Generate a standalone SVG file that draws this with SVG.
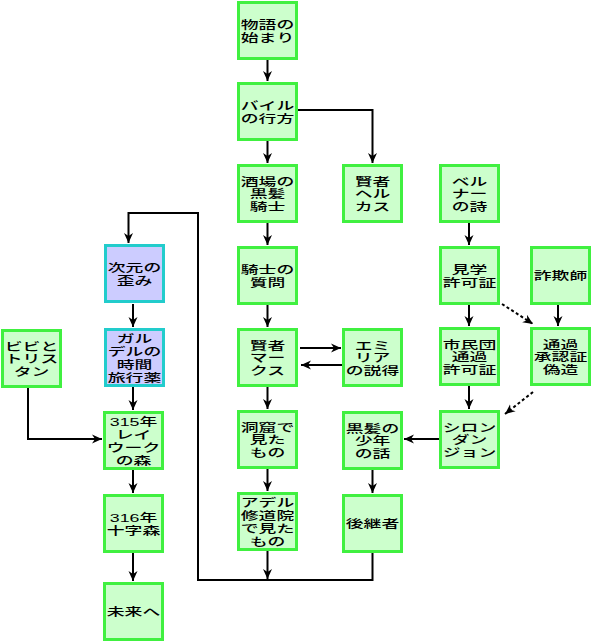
<svg xmlns="http://www.w3.org/2000/svg" width="592" height="642" viewBox="0 0 592 642">
<style>
.n rect{fill:#ccffcc;stroke:#40f040;stroke-width:3}
.p rect{fill:#ccccff;stroke:#22cccc;stroke-width:3}
text{font-family:"Liberation Sans","Noto Sans CJK JP","Noto Sans CJK SC",sans-serif;font-size:11.5px;font-weight:500;fill:#000;text-anchor:middle}
.c path{fill:none;stroke:#000;stroke-width:2;marker-end:url(#ah)}
.c .d{stroke-dasharray:3,2.5}
</style>
<defs>
<marker id="ah" markerUnits="userSpaceOnUse" markerWidth="11" markerHeight="10" refX="10" refY="5" orient="auto" viewBox="0 0 11 10">
<path d="M0,0.5 L10,5 L0,9.5 L3,5 z" fill="#000"/>
</marker>
</defs>
<rect width="592" height="642" fill="#fff"/>
<g class="c" id="connectors">
<path d="M267.5,60 V81"/>
<path d="M298,110 H372.5 V163"/>
<path d="M267.5,141 V163"/>
<path d="M267.5,223 V245"/>
<path d="M267.5,305 V327"/>
<path d="M300,348 H341"/>
<path d="M342,365 H301"/>
<path d="M267.5,387 V409"/>
<path d="M267.5,469 V491"/>
<path d="M267.5,551 V579"/>
<path d="M372.5,553 V580 H198 V213 H128.5 V243"/>
<path d="M133,304 V327"/>
<path d="M133,387 V410"/>
<path d="M28,388 V439 H102"/>
<path d="M133,470 V493"/>
<path d="M133,553 V581"/>
<path d="M469,223 V245"/>
<path d="M469,305 V326"/>
<path d="M558,305 V326"/>
<path class="d" d="M502,304 L533,324"/>
<path d="M469,386 V409"/>
<path class="d" d="M533,392 L505,414"/>
<path d="M439,439 H404"/>
<path d="M372.5,470 V493"/>
</g>
<g id="n1" class="n"><rect x="238.5" y="2.5" width="58" height="56"/><g transform="translate(267.5,0) scale(1.55,1)"><text><tspan x="0" y="29.05">物語の</tspan><tspan x="0" y="41.95">始まり</tspan></text></g></g>
<g id="n2" class="n"><rect x="238.5" y="83.5" width="58" height="56"/><g transform="translate(267.5,0) scale(1.55,1)"><text><tspan x="0" y="110.05">バイル</tspan><tspan x="0" y="122.95">の行方</tspan></text></g></g>
<g id="n3" class="n"><rect x="238.5" y="165.5" width="58" height="56"/><g transform="translate(267.5,0) scale(1.55,1)"><text><tspan x="0" y="185.6">酒場の</tspan><tspan x="0" y="198.5">黒髪</tspan><tspan x="0" y="211.4">騎士</tspan></text></g></g>
<g id="n4" class="n"><rect x="343.5" y="165.5" width="58" height="56"/><g transform="translate(372.5,0) scale(1.55,1)"><text><tspan x="0" y="185.6">賢者</tspan><tspan x="0" y="198.5">ヘル</tspan><tspan x="0" y="211.4">カス</tspan></text></g></g>
<g id="n5" class="n"><rect x="238.5" y="247.5" width="58" height="56"/><g transform="translate(267.5,0) scale(1.55,1)"><text><tspan x="0" y="274.05">騎士の</tspan><tspan x="0" y="286.95">質問</tspan></text></g></g>
<g id="n6" class="n"><rect x="238.5" y="329.5" width="58" height="56"/><g transform="translate(267.5,0) scale(1.55,1)"><text><tspan x="0" y="349.6">賢者</tspan><tspan x="0" y="362.5">マー</tspan><tspan x="0" y="375.4">クス</tspan></text></g></g>
<g id="n7" class="n"><rect x="343.5" y="329.5" width="58" height="56"/><g transform="translate(372.5,0) scale(1.55,1)"><text><tspan x="0" y="349.6">エミ</tspan><tspan x="0" y="362.5">リア</tspan><tspan x="0" y="375.4">の説得</tspan></text></g></g>
<g id="n8" class="n"><rect x="238.5" y="411.5" width="58" height="56"/><g transform="translate(267.5,0) scale(1.55,1)"><text><tspan x="0" y="431.6">洞窟で</tspan><tspan x="0" y="444.5">見た</tspan><tspan x="0" y="457.4">もの</tspan></text></g></g>
<g id="n9" class="n"><rect x="238.5" y="493.5" width="58" height="56"/><g transform="translate(267.5,0) scale(1.55,1)"><text><tspan x="0" y="507.15">アデル</tspan><tspan x="0" y="520.05">修道院</tspan><tspan x="0" y="532.95">で見た</tspan><tspan x="0" y="545.85">もの</tspan></text></g></g>
<g id="n10" class="n"><rect x="343.5" y="412.5" width="58" height="56"/><g transform="translate(372.5,0) scale(1.55,1)"><text><tspan x="0" y="432.6">黒髪の</tspan><tspan x="0" y="445.5">少年</tspan><tspan x="0" y="458.4">の話</tspan></text></g></g>
<g id="n11" class="n"><rect x="343.5" y="495.5" width="58" height="56"/><g transform="translate(372.5,0) scale(1.55,1)"><text><tspan x="0" y="528.5">後継者</tspan></text></g></g>
<g id="n12" class="n"><rect x="440.5" y="165.5" width="58" height="56"/><g transform="translate(469.5,0) scale(1.55,1)"><text><tspan x="0" y="185.6">ベル</tspan><tspan x="0" y="198.5">ナー</tspan><tspan x="0" y="211.4">の詩</tspan></text></g></g>
<g id="n13" class="n"><rect x="440.5" y="247.5" width="58" height="56"/><g transform="translate(469.5,0) scale(1.55,1)"><text><tspan x="0" y="274.05">見学</tspan><tspan x="0" y="286.95">許可証</tspan></text></g></g>
<g id="n14" class="n"><rect x="531.5" y="247.5" width="58" height="56"/><g transform="translate(560.5,0) scale(1.55,1)"><text><tspan x="0" y="280.5">詐欺師</tspan></text></g></g>
<g id="n15" class="n"><rect x="440.5" y="328.5" width="58" height="56"/><g transform="translate(469.5,0) scale(1.55,1)"><text><tspan x="0" y="348.6">市民団</tspan><tspan x="0" y="361.5">通過</tspan><tspan x="0" y="374.4">許可証</tspan></text></g></g>
<g id="n16" class="n"><rect x="531.5" y="328.5" width="58" height="56"/><g transform="translate(560.5,0) scale(1.55,1)"><text><tspan x="0" y="348.6">通過</tspan><tspan x="0" y="361.5">承認証</tspan><tspan x="0" y="374.4">偽造</tspan></text></g></g>
<g id="n17" class="n"><rect x="440.5" y="411.5" width="58" height="56"/><g transform="translate(469.5,0) scale(1.55,1)"><text><tspan x="0" y="431.6">シロン</tspan><tspan x="0" y="444.5">ダン</tspan><tspan x="0" y="457.4">ジョン</tspan></text></g></g>
<g id="n18" class="p"><rect x="105.5" y="245.5" width="58" height="56"/><g transform="translate(134.5,0) scale(1.55,1)"><text><tspan x="0" y="272.05">次元の</tspan><tspan x="0" y="284.95">歪み</tspan></text></g></g>
<g id="n19" class="p"><rect x="105.5" y="329.5" width="58" height="56"/><g transform="translate(134.5,0) scale(1.55,1)"><text><tspan x="0" y="343.15">ガル</tspan><tspan x="0" y="356.05">デルの</tspan><tspan x="0" y="368.95">時間</tspan><tspan x="0" y="381.85">旅行薬</tspan></text></g></g>
<g id="n20" class="n"><rect x="2.5" y="330.5" width="58" height="56"/><g transform="translate(31.5,0) scale(1.55,1)"><text><tspan x="0" y="350.6">ビビと</tspan><tspan x="0" y="363.5">トリス</tspan><tspan x="0" y="376.4">タン</tspan></text></g></g>
<g id="n21" class="n"><rect x="104.5" y="412.5" width="58" height="56"/><g transform="translate(133.5,0) scale(1.55,1)"><text><tspan x="0" y="426.15">315年</tspan><tspan x="0" y="439.05">レイ</tspan><tspan x="0" y="451.95">ウーク</tspan><tspan x="0" y="464.85">の森</tspan></text></g></g>
<g id="n22" class="n"><rect x="104.5" y="495.5" width="58" height="56"/><g transform="translate(133.5,0) scale(1.55,1)"><text><tspan x="0" y="522.05">316年</tspan><tspan x="0" y="534.95">十字森</tspan></text></g></g>
<g id="n23" class="n"><rect x="104.5" y="583.5" width="58" height="56"/><g transform="translate(133.5,0) scale(1.55,1)"><text><tspan x="0" y="616.5">未来へ</tspan></text></g></g>
</svg>
